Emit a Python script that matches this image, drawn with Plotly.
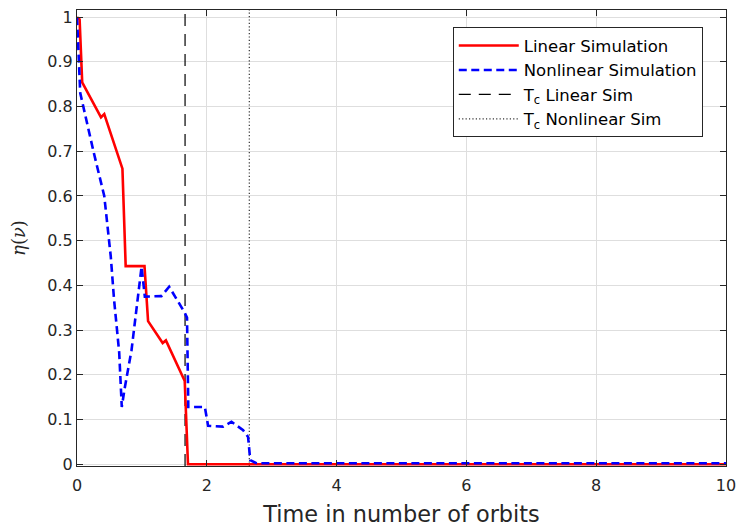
import plotly.graph_objects as go

# Linear simulation (red, solid)
lin_t = [0.0, 0.04, 0.08, 0.37, 0.42, 0.70, 0.75, 1.04, 1.095, 1.32, 1.37, 1.66, 1.71, 10.0]
lin_eta = [1.0, 0.995, 0.854, 0.776, 0.783, 0.661, 0.443, 0.443, 0.320, 0.271, 0.277, 0.186, 0.0, 0.0]

# Nonlinear simulation (blue, dashed)
nl_t = [0.0, 0.05, 0.26, 0.42, 0.52, 0.57, 0.65, 0.69, 0.735, 0.84, 0.995, 1.045, 1.30,
        1.42, 1.66, 1.695, 1.715, 1.97, 2.02, 2.25, 2.38, 2.56, 2.636, 2.67, 2.77, 10.0]
nl_eta = [1.0, 0.83, 0.696, 0.600, 0.465, 0.370, 0.250, 0.128, 0.170, 0.255, 0.442, 0.375, 0.376,
          0.397, 0.339, 0.328, 0.128, 0.128, 0.086, 0.084, 0.095, 0.076, 0.061, 0.009, 0.002, 0.002]

# Critical times
tc_linear = 1.665
tc_nonlinear = 2.655

x_ticks = [0, 2, 4, 6, 8, 10]
y_ticks = [0, 0.1, 0.2, 0.3, 0.4, 0.5, 0.6, 0.7, 0.8, 0.9, 1.0]
y_tick_labels = ["0", "0.1", "0.2", "0.3", "0.4", "0.5", "0.6", "0.7", "0.8", "0.9", "1"]

y_lo, y_hi = -0.004, 1.016

fig = go.Figure()

fig.add_trace(go.Scatter(
    x=[tc_linear, tc_linear], y=[y_lo, y_hi], mode="lines",
    line=dict(color="black", width=1.2, dash="12px,8px"),
    name="T<sub>c</sub> Linear Sim", legendrank=3))
fig.add_trace(go.Scatter(
    x=[tc_nonlinear, tc_nonlinear], y=[y_lo, y_hi], mode="lines",
    line=dict(color="#333333", width=1.2, dash="1.2px,2.2px"),
    name="T<sub>c</sub> Nonlinear Sim", legendrank=4))
fig.add_trace(go.Scatter(
    x=lin_t, y=lin_eta, mode="lines",
    line=dict(color="#ff0000", width=2.6),
    name="Linear Simulation", legendrank=1))
fig.add_trace(go.Scatter(
    x=nl_t, y=nl_eta, mode="lines",
    line=dict(color="#0000ff", width=2.6, dash="8px,4.5px"),
    name="Nonlinear Simulation", legendrank=2))

axis_common = dict(
    showline=True, linecolor="#262626", linewidth=1, mirror="ticks",
    ticks="inside", ticklen=6, tickcolor="#262626", automargin=False,
    showgrid=True, gridcolor="#dedede", gridwidth=1, zeroline=False,
    tickfont=dict(family="DejaVu Sans", size=16, color="#262626"),
)

fig.update_layout(
    width=739, height=527,
    margin=dict(l=77, r=13, t=10, b=61, autoexpand=False),
    paper_bgcolor="white", plot_bgcolor="white",
    xaxis=dict(range=[0, 10], tickvals=x_ticks, ticktext=[str(v) for v in x_ticks],
               ticklabelstandoff=5,
               title=dict(text="Time in number of orbits", standoff=12,
                          font=dict(family="DejaVu Sans", size=22.4, color="#262626")),
               **axis_common),
    yaxis=dict(range=[y_lo, y_hi], tickvals=y_ticks, ticktext=y_tick_labels,
               title=dict(text="<i>η</i>(<i>ν</i>)", standoff=17,
                          font=dict(family="DejaVu Serif", size=18, color="#262626")),
               **axis_common),
    legend=dict(x=0.579, y=0.962, xanchor="left", yanchor="top",
                bgcolor="white", bordercolor="#262626", borderwidth=1,
                font=dict(family="DejaVu Sans", size=16.5, color="black"),
                itemwidth=60, tracegroupgap=0),
    showlegend=True,
)

fig.write_html("out.html", config={"displayModeBar": False},
               post_script="document.body.style.margin='0';")
